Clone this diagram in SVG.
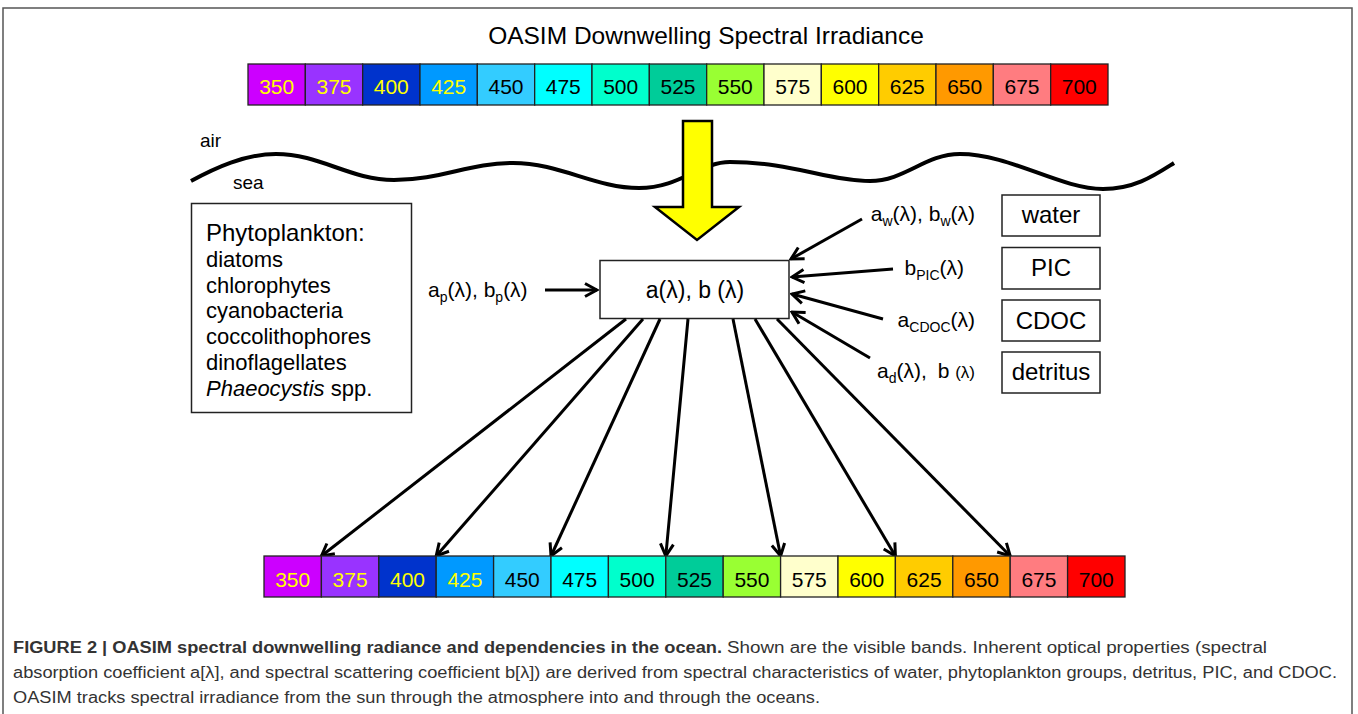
<svg xmlns="http://www.w3.org/2000/svg" width="1358" height="714" viewBox="0 0 1358 714">
<defs>
<style>
.t{font-family:"Liberation Sans",Arial,sans-serif;fill:#000}
.c{stroke:#222;stroke-width:1.3}
.n{font-family:"Liberation Sans",Arial,sans-serif;font-size:21px;text-anchor:middle;fill:#000}
.y{fill:#ffff00}
.box{fill:#fff;stroke:#222;stroke-width:1.5}
.lbl{font-family:"Liberation Sans",Arial,sans-serif;font-size:21px;fill:#000}
.blab{font-family:"Liberation Sans",Arial,sans-serif;font-size:24px;fill:#000;text-anchor:middle}
.arr{stroke:#000;stroke-width:3;fill:none;marker-end:url(#ah)}
.cap{font-family:"Liberation Sans",Arial,sans-serif;font-size:16px;fill:#333}
</style>
<marker id="ah" viewBox="-16 -9 18 18" refX="0" refY="0" markerWidth="18" markerHeight="18" markerUnits="userSpaceOnUse" orient="auto">
<path d="M-12,-6.5 L0,0 L-12,6.5" fill="none" stroke="#000" stroke-width="3"/>
</marker>
</defs>
<rect x="0" y="0" width="1358" height="714" fill="#fff"/>
<rect x="3" y="8" width="1349" height="730" fill="none" stroke="#555" stroke-width="1.5"/>

<text class="t" x="706" y="44" font-size="24.5" text-anchor="middle">OASIM Downwelling Spectral Irradiance</text>

<g id="top-bar">
<rect class="c" x="248" y="64" width="57.33" height="41" fill="#cc00ff"/>
<rect class="c" x="305.33" y="64" width="57.33" height="41" fill="#9933ff"/>
<rect class="c" x="362.67" y="64" width="57.33" height="41" fill="#0033cc"/>
<rect class="c" x="420" y="64" width="57.33" height="41" fill="#0099ff"/>
<rect class="c" x="477.33" y="64" width="57.33" height="41" fill="#33ccff"/>
<rect class="c" x="534.67" y="64" width="57.33" height="41" fill="#00ffff"/>
<rect class="c" x="592" y="64" width="57.33" height="41" fill="#00ffcc"/>
<rect class="c" x="649.33" y="64" width="57.33" height="41" fill="#00cc99"/>
<rect class="c" x="706.67" y="64" width="57.33" height="41" fill="#99ff33"/>
<rect class="c" x="764" y="64" width="57.33" height="41" fill="#ffffcc"/>
<rect class="c" x="821.33" y="64" width="57.33" height="41" fill="#ffff00"/>
<rect class="c" x="878.67" y="64" width="57.33" height="41" fill="#ffcc00"/>
<rect class="c" x="936" y="64" width="57.33" height="41" fill="#ff9900"/>
<rect class="c" x="993.33" y="64" width="57.33" height="41" fill="#ff7c80"/>
<rect class="c" x="1050.67" y="64" width="57.33" height="41" fill="#ff0000"/>
<text class="n y" x="276.7" y="94">350</text>
<text class="n y" x="334" y="94">375</text>
<text class="n y" x="391.3" y="94">400</text>
<text class="n y" x="448.7" y="94">425</text>
<text class="n" x="506" y="94">450</text>
<text class="n" x="563.3" y="94">475</text>
<text class="n" x="620.7" y="94">500</text>
<text class="n" x="678" y="94">525</text>
<text class="n" x="735.3" y="94">550</text>
<text class="n" x="792.7" y="94">575</text>
<text class="n" x="850" y="94">600</text>
<text class="n" x="907.3" y="94">625</text>
<text class="n" x="964.7" y="94">650</text>
<text class="n" x="1022" y="94">675</text>
<text class="n" x="1079.3" y="94">700</text>
</g>

<g id="surface">
<path d="M191,181 C215,168 245,154 276,154 C320,154 350,180 394,180 C440,180 470,163 513,163 C560,163 595,188 639,188 C680,188 700,162 730,162 C790,162 830,181 870,181 C905,181 925,154 960,154 C1010,154 1060,189 1103,189 C1135,189 1155,175 1174,163" fill="none" stroke="#000" stroke-width="4"/>
<text class="t" x="200" y="147" font-size="19">air</text>
<text class="t" x="233" y="189" font-size="19">sea</text>
</g>

<g id="sun-arrow">
<polygon points="683,121 712,121 712,207 739,207 697,240 655,207 683,207" fill="#ffff00" stroke="#000" stroke-width="2.5" stroke-linejoin="miter"/>
</g>

<g id="phytoplankton">
<rect class="box" x="191.5" y="203.5" width="220" height="209"/>
<text class="t" x="206" y="241" font-size="24">Phytoplankton:</text>
<text class="t" x="206" y="267" font-size="22">diatoms</text>
<text class="t" x="206" y="292.5" font-size="22">chlorophytes</text>
<text class="t" x="206" y="318" font-size="22">cyanobacteria</text>
<text class="t" x="206" y="344" font-size="22">coccolithophores</text>
<text class="t" x="206" y="370" font-size="22">dinoflagellates</text>
<text class="t" x="206" y="396" font-size="22"><tspan font-style="italic">Phaeocystis</tspan> spp.</text>
</g>

<g id="iop">
<rect class="box" x="600" y="260.5" width="189" height="58"/>
<text class="t" x="695" y="298" font-size="23" text-anchor="middle">a(λ), b (λ)</text>
</g>

<g id="water">
<rect class="box" x="1002" y="195" width="98" height="41"/>
<text class="blab" x="1051" y="223">water</text>
</g>
<g id="pic">
<rect class="box" x="1002" y="247.5" width="98" height="41.5"/>
<text class="blab" x="1051" y="276">PIC</text>
</g>
<g id="cdoc">
<rect class="box" x="1002" y="300" width="98" height="41"/>
<text class="blab" x="1051" y="329">CDOC</text>
</g>
<g id="detritus">
<rect class="box" x="1002" y="352" width="98" height="41"/>
<text class="blab" x="1051" y="380">detritus</text>
</g>

<g id="labels">
<text class="lbl" x="428" y="297">a<tspan font-size="14" dy="5">p</tspan><tspan dy="-5">(λ), b</tspan><tspan font-size="14" dy="5">p</tspan><tspan dy="-5">(λ)</tspan></text>
<text class="lbl" x="975" y="221" text-anchor="end">a<tspan font-size="14" dy="5">w</tspan><tspan dy="-5">(λ), b</tspan><tspan font-size="14" dy="5">w</tspan><tspan dy="-5">(λ)</tspan></text>
<text class="lbl" x="964" y="275" text-anchor="end">b<tspan font-size="14" dy="5">PIC</tspan><tspan dy="-5">(λ)</tspan></text>
<text class="lbl" x="975" y="327" text-anchor="end">a<tspan font-size="14" dy="5">CDOC</tspan><tspan dy="-5">(λ)</tspan></text>
<text class="lbl" x="877" y="378">a<tspan font-size="14" dy="5">d</tspan><tspan dy="-5">(λ),</tspan></text>
<text class="lbl" x="975" y="378" text-anchor="end">b <tspan font-size="17">(λ)</tspan></text>
</g>

<g id="connectors">
<line class="arr" x1="545" y1="290" x2="597" y2="290"/>
<line class="arr" x1="862" y1="219" x2="791" y2="259"/>
<line class="arr" x1="893" y1="269" x2="792" y2="277"/>
<line class="arr" x1="883" y1="319" x2="792" y2="294"/>
<line class="arr" x1="870" y1="358" x2="792" y2="312"/>
<line class="arr" x1="626" y1="319" x2="321.4" y2="556"/>
<line class="arr" x1="643" y1="319" x2="436.2" y2="556"/>
<line class="arr" x1="660" y1="319" x2="551" y2="556"/>
<line class="arr" x1="688" y1="319" x2="665.8" y2="556"/>
<line class="arr" x1="733" y1="319" x2="780.6" y2="556"/>
<line class="arr" x1="755" y1="319" x2="895.4" y2="556"/>
<line class="arr" x1="777" y1="319" x2="1010.2" y2="556"/>
</g>

<g id="bottom-bar">
<rect class="c" x="264" y="556" width="57.4" height="41" fill="#cc00ff"/>
<rect class="c" x="321.4" y="556" width="57.4" height="41" fill="#9933ff"/>
<rect class="c" x="378.8" y="556" width="57.4" height="41" fill="#0033cc"/>
<rect class="c" x="436.2" y="556" width="57.4" height="41" fill="#0099ff"/>
<rect class="c" x="493.6" y="556" width="57.4" height="41" fill="#33ccff"/>
<rect class="c" x="551" y="556" width="57.4" height="41" fill="#00ffff"/>
<rect class="c" x="608.4" y="556" width="57.4" height="41" fill="#00ffcc"/>
<rect class="c" x="665.8" y="556" width="57.4" height="41" fill="#00cc99"/>
<rect class="c" x="723.2" y="556" width="57.4" height="41" fill="#99ff33"/>
<rect class="c" x="780.6" y="556" width="57.4" height="41" fill="#ffffcc"/>
<rect class="c" x="838" y="556" width="57.4" height="41" fill="#ffff00"/>
<rect class="c" x="895.4" y="556" width="57.4" height="41" fill="#ffcc00"/>
<rect class="c" x="952.8" y="556" width="57.4" height="41" fill="#ff9900"/>
<rect class="c" x="1010.2" y="556" width="57.4" height="41" fill="#ff7c80"/>
<rect class="c" x="1067.6" y="556" width="57.4" height="41" fill="#ff0000"/>
<text class="n y" x="292.7" y="587">350</text>
<text class="n y" x="350.1" y="587">375</text>
<text class="n y" x="407.5" y="587">400</text>
<text class="n y" x="464.9" y="587">425</text>
<text class="n" x="522.3" y="587">450</text>
<text class="n" x="579.7" y="587">475</text>
<text class="n" x="637.1" y="587">500</text>
<text class="n" x="694.5" y="587">525</text>
<text class="n" x="751.9" y="587">550</text>
<text class="n" x="809.3" y="587">575</text>
<text class="n" x="866.7" y="587">600</text>
<text class="n" x="924.1" y="587">625</text>
<text class="n" x="981.5" y="587">650</text>
<text class="n" x="1038.9" y="587">675</text>
<text class="n" x="1096.3" y="587">700</text>
</g>

<g id="caption">
<text class="cap" x="13" y="653" font-weight="bold" fill="#222" textLength="709" lengthAdjust="spacingAndGlyphs">FIGURE 2 | OASIM spectral downwelling radiance and dependencies in the ocean.</text>
<text class="cap" x="727" y="653" textLength="540" lengthAdjust="spacingAndGlyphs">Shown are the visible bands. Inherent optical properties (spectral</text>
<text class="cap" x="13" y="678" textLength="1324" lengthAdjust="spacingAndGlyphs">absorption coefficient a[λ], and spectral scattering coefficient b[λ]) are derived from spectral characteristics of water, phytoplankton groups, detritus, PIC, and CDOC.</text>
<text class="cap" x="13" y="703" textLength="807" lengthAdjust="spacingAndGlyphs">OASIM tracks spectral irradiance from the sun through the atmosphere into and through the oceans.</text>
</g>
</svg>
